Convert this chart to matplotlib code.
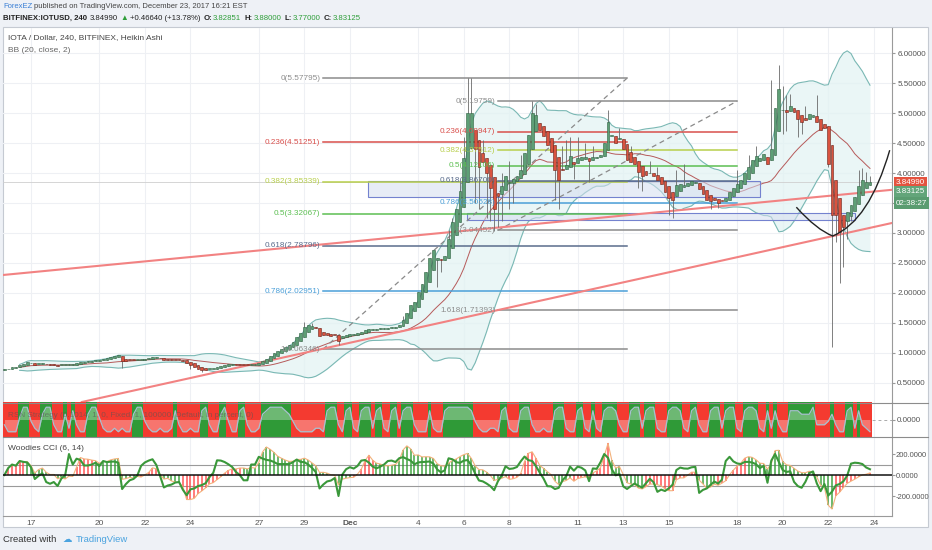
import matplotlib
matplotlib.use("Agg")
import matplotlib.pyplot as plt
import matplotlib.transforms as mtrans
from matplotlib.patches import Rectangle, PathPatch
from matplotlib.path import Path
from matplotlib.lines import Line2D
import numpy as np
import pandas as pd

plt.rcParams['font.family'] = ['Liberation Sans', 'DejaVu Sans']

W, H = 932, 550

# ---------------- data ----------------
first_candle_day = -7 / 6      # Nov 15 20:00, in days from Nov 17 00:00
candle_days = 1 / 6            # 240-minute candles

ha_close = [
    0.73, 0.74, 0.76, 0.77, 0.80, 0.82, 0.85, 0.84, 0.80, 0.82,
    0.83, 0.81, 0.80, 0.80, 0.79, 0.80, 0.80, 0.81, 0.81, 0.83,
    0.85, 0.85, 0.86, 0.87, 0.88, 0.88, 0.90, 0.91, 0.93, 0.95,
    0.97, 0.86, 0.87, 0.88, 0.88, 0.89, 0.89, 0.90, 0.91, 0.93,
    0.93, 0.91, 0.89, 0.89, 0.88, 0.88, 0.88, 0.87, 0.83, 0.80,
    0.76, 0.74, 0.72, 0.72, 0.74, 0.74, 0.76, 0.78, 0.80, 0.81,
    0.81, 0.80, 0.80, 0.80, 0.80, 0.81, 0.81, 0.83, 0.86, 0.90,
    0.95, 1.00, 1.03, 1.07, 1.10, 1.13, 1.18, 1.27, 1.33, 1.43,
    1.46, 1.45, 1.42, 1.28, 1.30, 1.30, 1.29, 1.30, 1.20, 1.28,
    1.30, 1.31, 1.31, 1.33, 1.35, 1.38, 1.40, 1.40, 1.40, 1.41,
    1.41, 1.42, 1.43, 1.44, 1.47, 1.55, 1.67, 1.80, 1.85, 2.02,
    2.15, 2.35, 2.58, 2.72, 2.58, 2.55, 2.62, 2.90, 3.18, 3.40,
    3.70, 4.25, 5.00, 5.00, 4.40, 4.10, 4.18, 4.00, 3.75, 3.40,
    3.62, 3.78, 3.95, 3.85, 3.90, 3.95, 4.05, 4.33, 4.63, 5.00,
    4.97, 4.72, 4.62, 4.47, 4.35, 4.05, 3.88, 4.05, 4.13, 4.28,
    4.15, 4.25, 4.27, 4.26, 4.20, 4.27, 4.27, 4.30, 4.50, 4.85,
    4.62, 4.50, 4.58, 4.40, 4.22, 4.18, 4.15, 4.02, 3.95, 3.96,
    4.00, 3.95, 3.88, 3.82, 3.68, 3.58, 3.55, 3.80, 3.82, 3.80,
    3.83, 3.86, 3.85, 3.73, 3.65, 3.55, 3.53, 3.55, 3.50, 3.53,
    3.58, 3.68, 3.75, 3.82, 3.88, 4.00, 4.10, 4.22, 4.28, 4.25,
    4.32, 4.15, 4.40, 5.08, 5.40, 5.05, 5.02, 5.12, 5.02, 4.90,
    4.85, 4.88, 4.98, 4.96, 4.85, 4.72, 4.75, 4.15, 3.30, 3.30,
    3.02, 3.10, 3.35, 3.47, 3.60, 3.78, 3.88, 3.85, 3.85,
]
ha_first_open = 0.72

wick_high = {79: 1.52, 81: 1.50, 105: 1.62, 117: 3.05, 118: 3.25, 120: 3.85,
             121: 4.60, 122: 5.58, 123: 5.58, 126: 4.55, 131: 4.00, 133: 4.20,
             136: 4.30, 139: 5.20, 140: 5.15, 147: 4.45, 148: 4.55, 149: 4.60,
             151: 4.60, 153: 4.50, 155: 4.45, 159: 5.05, 162: 4.75, 165: 4.45,
             170: 4.20, 172: 4.10, 177: 4.05, 179: 4.15, 193: 4.05, 196: 4.30,
             198: 4.45, 202: 5.55, 204: 5.80, 205: 5.45, 206: 5.30, 207: 5.32,
             211: 5.12, 214: 5.30, 225: 4.05, 226: 4.08, 227: 4.02, 228: 3.95}
wick_low = {31: 0.75, 49: 0.74, 52: 0.68, 88: 1.13, 114: 2.10, 115: 2.35,
            124: 3.50, 125: 3.40, 127: 3.25, 128: 3.20, 129: 3.04, 130: 3.10,
            131: 3.20, 133: 3.40, 134: 3.50, 145: 3.55, 146: 3.40, 150: 3.90,
            154: 3.85, 167: 3.75, 168: 3.70, 175: 3.30, 176: 3.25, 186: 3.40,
            188: 3.42, 205: 4.65, 206: 4.70, 209: 4.60, 210: 4.65, 217: 4.10,
            218: 1.10, 219: 2.85, 220: 2.17, 221: 2.43, 222: 2.90, 223: 3.20}

date_tick_days = [0, 3, 5, 7, 10, 12, 14, 17, 19, 21, 24, 26, 28, 31, 33, 35, 37]
date_tick_labels = ['17', '20', '22', '24', '27', '29', 'Dec', '4', '6', '8',
                    '11', '13', '15', '18', '20', '22', '24']
price_ticks = [0.5, 1.0, 1.5, 2.0, 2.5, 3.0, 3.5, 4.0, 4.5, 5.0, 5.5, 6.0]
price_tick_labels = ['0.50000', '1.00000', '1.50000', '2.00000', '2.50000', '3.00000',
                     '', '4.00000', '4.50000', '5.00000', '5.50000', '6.00000']
cci_ticks = [200, 0, -200]
cci_tick_labels = ['200.0000', '0.0000', '-200.0000']

fib1_labels = ['0(5.57795)', '0.236(4.51251)', '0.382(3.85339)', '0.5(3.32067)',
               '0.618(2.78796)', '0.786(2.02951)', '1(1.06346)']
fib1_prices = [5.57795, 4.51251, 3.85339, 3.32067, 2.78796, 2.02951, 1.06346]
fib1_colors = ['#8c8c8c', '#d9504c', '#b8cf4c', '#5cbf52', '#5a6c8c', '#4a9fd8', '#8c8c8c']
fib1_span = (12.82, 26.16)

fib2_labels = ['0(5.19759)', '0.236(4.68947)', '0.382(4.37512)', '0.5(4.12106)',
               '0.618(3.86700)', '0.786(3.50528)', '1(3.04452)', '1.618(1.71393)']
fib2_prices = [5.19759, 4.68947, 4.37512, 4.12106, 3.86700, 3.50528, 3.04452, 1.71393]
fib2_colors = ['#8c8c8c', '#d9504c', '#b8cf4c', '#5cbf52', '#5a6c8c', '#4a9fd8', '#8c8c8c', '#8c8c8c']
fib2_span = (20.50, 31.00)

fib1_diag = [(12.82, 1.06346), (26.16, 5.57795)]
fib2_diag = [(20.50, 3.04452), (31.00, 5.19759)]
trend_red_1 = [(-1.23, 2.30), (37.8, 3.72)]
trend_red_2 = [(8.0, 0.667), (37.8, 3.167)]
zone_a = (14.79, 32.00, 3.60, 3.86)
zone_b = (19.14, 36.17, 3.22, 3.33)
cup_left = [(33.60, 3.43), (34.50, 3.05), (35.20, 2.95)]
cup_right = [(35.20, 2.95), (36.80, 3.20), (37.70, 4.38)]

last_price_line = 3.8499
price_badges = [('3.84990', 3.84, '#e4533f'), ('3.83125', 3.685, '#63a57a'), ('02:38:27', 3.50, '#5a9c70')]

strategy_runs = [
    ('r', '3111'), ('g', '588'), ('r', '421'), ('g', '688'), ('r', '311'), ('g', '6'),
    ('r', '2'), ('g', '7'), ('r', '311'), ('g', '688'), ('r', '521121211'), ('g', '688'),
    ('r', '42112112'), ('g', '7'), ('r', '311211'), ('g', '78'), ('r', '311'), ('g', '68'),
    ('r', '411'), ('g', '78'), ('r', '3112'), ('g', '67888876'), ('r', '421111221'),
    ('g', '788'), ('r', '31'), ('g', '78'), ('r', '21'), ('g', '788'), ('r', '2'),
    ('g', '78'), ('r', '21'), ('g', '78'), ('r', '2'), ('g', '788'), ('r', '3111'),
    ('g', '7'), ('r', '211'), ('g', '78888887'), ('r', '4211221'), ('g', '78'),
    ('r', '211'), ('g', '788'), ('r', '311211'), ('g', '788'), ('r', '211'), ('g', '78'),
    ('r', '21'), ('g', '7'), ('r', '21'), ('g', '7887'), ('r', '311'), ('g', '788'),
    ('r', '2'), ('g', '788'), ('r', '211'), ('g', '7887'), ('r', '21'), ('g', '78'),
    ('r', '311'), ('g', '788'), ('r', '2'), ('g', '788'), ('r', '21'), ('g', '7887'),
    ('r', '21'), ('g', '7'), ('r', '2'), ('g', '7'), ('r', '311'), ('g', '7776668'),
    ('r', '3334'), ('g', '6'), ('r', '311'), ('g', '78'), ('r', '2'), ('g', '7'), ('r', '321'),
]

# ---------------- derived series ----------------
c = np.array(ha_close, dtype=float)
n = len(c)
x = first_candle_day + np.arange(n) * candle_days
o = np.empty(n)
o[0] = ha_first_open
for i in range(1, n):
    o[i] = (o[i - 1] + c[i - 1]) / 2
hi = np.maximum(o, c)
lo = np.minimum(o, c)
for k, v in wick_high.items():
    hi[k] = max(hi[k], v)
for k, v in wick_low.items():
    lo[k] = min(lo[k], v)

s = pd.Series(c)
basis = s.rolling(20, min_periods=5).mean().to_numpy()
dev = s.rolling(20, min_periods=5).std(ddof=0).to_numpy()
upper = basis + 2 * dev
lower = basis - 2 * dev


def cci(src, length):
    ser = pd.Series(src)
    ma = ser.rolling(length, min_periods=2).mean()
    md = ser.rolling(length, min_periods=2).apply(lambda w: np.abs(w - w.mean()).mean(), raw=True)
    v = (ser - ma) / (0.015 * md)
    return v.replace([np.inf, -np.inf], np.nan).fillna(0).to_numpy()


cci14 = cci(c, 14)
cci6 = cci(c, 6)
GREEN_H, RED_H = '#2f9a2f', '#ff4545'
hist_cols = []
for i in range(n):
    prev = cci14[max(0, i - 5):i]
    if len(prev) == 5 and np.all(prev > 0):
        hist_cols.append(GREEN_H)
    elif len(prev) == 5 and np.all(prev < 0):
        hist_cols.append(RED_H)
    elif cci14[i] < 0:
        hist_cols.append(GREEN_H)
    else:
        hist_cols.append(RED_H)

strip_cols, strip_vals = [], []
for col, lv in strategy_runs:
    for ch in lv:
        strip_cols.append('#f43a30' if col == 'r' else '#2f9a37')
        strip_vals.append((int(ch) - 4.5) / 5.0)
m = min(len(strip_cols), n)
strip_cols, strip_vals = strip_cols[:m], np.array(strip_vals[:m])

# ---------------- figure ----------------
fig = plt.figure(figsize=(W / 100, H / 100), dpi=100, facecolor='#eef1f6')


def fx(px):
    return px / W


def fy(py):
    return 1 - py / H


fig.patches.append(Rectangle((fx(3), fy(527)), fx(925), 500 / H, transform=fig.transFigure,
                             facecolor='white', edgecolor='#c5cad2', lw=0.8, zorder=-10))

L, R = 3, 892
ax1 = fig.add_axes([fx(L), fy(402), fx(R - L), (402 - 28) / H])
ax2 = fig.add_axes([fx(L), fy(437), fx(R - L), (437 - 402) / H])
ax3 = fig.add_axes([fx(L), fy(516), fx(R - L), (516 - 437) / H])

xlim = (-1.23, 37.8)
GRID = '#eef0f4'
for ax in (ax1, ax2, ax3):
    ax.set_xlim(*xlim)
    ax.patch.set_visible(False)
    for sp in ('top', 'left', 'bottom'):
        ax.spines[sp].set_visible(False)
    ax.spines['right'].set_color('#9a9a9a')
    ax.spines['right'].set_linewidth(0.8)
    ax.yaxis.tick_right()
    ax.tick_params(axis='y', length=2.5, color='#999', labelsize=5.8, labelcolor='#555', pad=1.2)
    ax.set_xticks(date_tick_days)
    ax.tick_params(axis='x', length=0)
    for d in date_tick_days:
        ax.axvline(d, color=GRID, lw=0.8, zorder=0)
ax3.tick_params(axis='y', labelsize=5.5, pad=0.8, length=2)
ax1.set_xticklabels([])
ax2.set_xticklabels([])
ax3.spines['bottom'].set_visible(True)
ax3.spines['bottom'].set_color('#9a9a9a')
ax3.set_xticklabels(date_tick_labels)
ax3.tick_params(axis='x', labelsize=6.0, labelcolor='#555', pad=3)
for lab in ax3.get_xticklabels():
    if lab.get_text() == 'Dec':
        lab.set_fontweight('bold')

# ---- main price panel ----
ax1.set_ylim(0.183, 6.417)
ax1.set_yticks(price_ticks)
ax1.set_yticklabels(price_tick_labels)
for p in price_ticks:
    ax1.axhline(p, color=GRID, lw=0.8, zorder=0)

ax1.fill_between(x, lower, upper, color='#e3f3f3', alpha=0.75, lw=0, zorder=1)
ax1.plot(x, upper, color='#7ab8b4', lw=0.8, zorder=2)
ax1.plot(x, lower, color='#7ab8b4', lw=0.8, zorder=2)
ax1.plot(x, basis, color='#b65a5a', lw=0.7, zorder=2)

ax1.axhline(last_price_line, color='#cfcfcf', lw=0.6, zorder=1)

for (x0, x1, p0, p1) in (zone_a, zone_b):
    ax1.add_patch(Rectangle((x0, p0), x1 - x0, p1 - p0, facecolor='#d5ddef', alpha=0.55,
                            edgecolor='none', zorder=2))
    ax1.add_patch(Rectangle((x0, p0), x1 - x0, p1 - p0, facecolor='none',
                            edgecolor='#7482cf', lw=0.8, zorder=3))

for labels, prices, cols, span in ((fib1_labels, fib1_prices, fib1_colors, fib1_span),
                                   (fib2_labels, fib2_prices, fib2_colors, fib2_span)):
    for lab, p, col in zip(labels, prices, cols):
        ax1.plot(span, [p, p], color=col, lw=1.1, zorder=3)
        ax1.text(span[0] - 0.12, p, lab, color=col, fontsize=5.9, ha='right', va='center', zorder=6)

for diag in (fib1_diag, fib2_diag):
    (a0, b0), (a1, b1) = diag
    ax1.plot([a0, a1], [b0, b1], color='#8a8a8a', lw=0.9, ls=(0, (4, 3)), zorder=3)

for tl in (trend_red_1, trend_red_2):
    ax1.axline(tl[0], tl[1], color='#f28282', lw=1.5, zorder=3)

verts = cup_left + cup_right[1:]
codes = [Path.MOVETO, Path.CURVE3, Path.CURVE3, Path.CURVE3, Path.CURVE3]
ax1.add_patch(PathPatch(Path(verts, codes), facecolor='none', edgecolor='#222', lw=1.0, zorder=7))

up = c >= o
bb = np.minimum(o, c)
bh = np.maximum(np.abs(c - o), 0.012)
ax1.vlines(x, lo, hi, color='#6a6a6a', lw=0.6, zorder=4)
ax1.bar(x[up], bh[up], bottom=bb[up], width=0.125, color='#5e9f76', edgecolor='#2d5f3f', lw=0.4, zorder=5)
ax1.bar(x[~up], bh[~up], bottom=bb[~up], width=0.125, color='#d9533f', edgecolor='#6a2118', lw=0.4, zorder=5)

ytr = mtrans.blended_transform_factory(ax1.transAxes, ax1.transData)
for txt, p, col in price_badges:
    ax1.text(1.004, p, txt, transform=ytr, fontsize=5.8, color='white', ha='left', va='center',
             bbox=dict(boxstyle='square,pad=0.25', facecolor=col, edgecolor='none'), zorder=10, clip_on=False)

ax1.text(5 / (R - L), 1 - 10 / 374, 'IOTA / Dollar, 240, BITFINEX, Heikin Ashi',
         transform=ax1.transAxes, fontsize=6.0, color='#444', ha='left', va='center')
ax1.text(5 / (R - L), 1 - 22 / 374, 'BB (20, close, 2)', transform=ax1.transAxes,
         fontsize=6.0, color='#666', ha='left', va='center')

# ---- strategy panel ----
ax2.set_ylim(-1.0, 1.0)
ax2.set_yticks([0])
ax2.set_yticklabels(['0.0000'])
ax2.axhline(0, color='#aaaaaa', lw=0.7, ls=(0, (3, 3)), zorder=0)
ax2.bar(x[:m], 2.0, bottom=-1.0, width=candle_days + 0.003, color=strip_cols, lw=0, zorder=1)
ax2.fill_between(x[:m], strip_vals, 0, color='white', alpha=0.3, lw=0, zorder=2)
ax2.plot(x[:m], strip_vals, color='#a9c0cf', lw=0.9, zorder=3)
ax2.text(5 / (R - L), 0.62,
         'RSN Strategy (0.1014, 1, 0, Fixed, 1, 100000, Default, in percent, 0)',
         transform=ax2.transAxes, fontsize=5.9, color='#555', alpha=0.6, ha='left', va='center', zorder=4)

# ---- Woodies CCI panel ----
ax3.set_ylim(-390, 362)
ax3.set_yticks(cci_ticks)
ax3.set_yticklabels(cci_tick_labels)
ax3.axhline(100, color='#9a9a9a', lw=0.8, zorder=1)
ax3.axhline(-100, color='#9a9a9a', lw=0.8, zorder=1)
ax3.vlines(x, 0, cci14, colors=hist_cols, lw=1.1, alpha=0.9, zorder=2)
ax3.plot(x, cci14, color='#f3b27c', lw=0.8, zorder=3)
ax3.plot(x, cci6, color='#3a983a', lw=1.5, zorder=4)
ax3.axhline(0, color='#111', lw=1.1, zorder=5)
ax3.text(5 / (R - L), 1 - 11 / 79, 'Woodies CCI (6, 14)', transform=ax3.transAxes,
         fontsize=6.0, color='#444', ha='left', va='center')

# panel separators
for yy in (402.5, 437):
    fig.add_artist(Line2D([fx(3), fx(928)], [fy(yy), fy(yy)], color='#8c8c8c', lw=0.8))

# ---------------- header / footer ----------------
fig.canvas.draw()
renderer = fig.canvas.get_renderer()


def seq_text(x_px, y_px, pieces, size):
    xp = x_px
    for txt, col, weight, gap in pieces:
        t = fig.text(fx(xp), fy(y_px), txt, color=col, fontsize=size, fontweight=weight,
                     ha='left', va='center')
        bbx = t.get_window_extent(renderer=renderer)
        xp += bbx.width + gap


G = '#2f9e3a'
seq_text(3, 6, [('ForexEZ', '#3a7fd5', 'normal', 2),
                ('published on TradingView.com, December 23, 2017 16:21 EST', '#444', 'normal', 0)], 5.5)
seq_text(3, 18, [('BITFINEX:IOTUSD, 240', '#222', 'bold', 3), ('3.84990', '#222', 'normal', 2),
                 ('▲', G, 'normal', 2), ('+0.46640 (+13.78%)', '#222', 'normal', 3),
                 ('O:', '#222', 'bold', 1), ('3.82851', G, 'normal', 3),
                 ('H:', '#222', 'bold', 1), ('3.88000', G, 'normal', 3),
                 ('L:', '#222', 'bold', 1), ('3.77000', G, 'normal', 3),
                 ('C:', '#222', 'bold', 1), ('3.83125', G, 'normal', 0)], 5.6)
seq_text(3, 539, [('Created with', '#333', 'normal', 6), ('☁', '#4aa3df', 'normal', 4),
                  ('TradingView', '#4aa3df', 'normal', 0)], 6.8)

fig.savefig('out.png', dpi=100, facecolor=fig.get_facecolor())
